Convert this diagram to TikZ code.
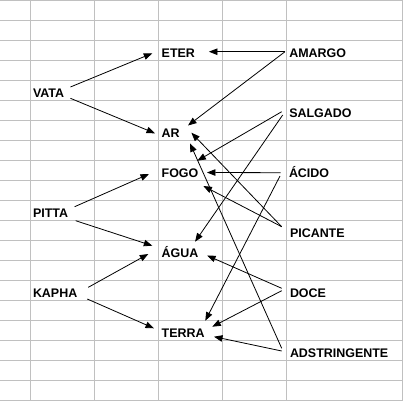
\documentclass[tikz,border=0pt]{standalone}
\usepackage{fontspec}
\setmainfont{Liberation Sans}
\usetikzlibrary{arrows.meta}
\definecolor{grade}{RGB}{192,192,192}
\tikzstyle{termo}=[anchor=base west,inner sep=0pt,outer sep=0pt,text height=9bp,text depth=0pt,font=\fontsize{12.5}{14}\selectfont\bfseries]
\tikzstyle{gradeline}=[draw=grade,line width=1bp]
\tikzstyle{ligacao}=[-{Triangle[length=8.5bp,width=6.5bp]},line width=0.8bp]
\begin{document}
\begin{tikzpicture}[x=1bp,y=-1bp]
  \useasboundingbox (0,0) rectangle (404,401);
  \fill[white] (0,0) rectangle (404,401);
  % grade da planilha
  \foreach \y in {0,20,...,400} {
    \draw[gradeline] (0,\y+0.5) -- (402,\y+0.5);
  }
  \foreach \x in {30.5,94.5,158.5,222.5,286.5,402} {
    \draw[gradeline] (\x,0) -- (\x,401);
  }
  % doshas
  \node[termo] (vata) at (33,97) {VATA};
  \node[termo] (pitta) at (33,217) {PITTA};
  \node[termo] (kapha) at (33,297) {KAPHA};
  % elementos
  \node[termo] (eter) at (161.7,57) {ETER};
  \node[termo] (ar) at (161.7,137) {AR};
  \node[termo] (fogo) at (161.7,177) {FOGO};
  \node[termo] (agua) at (161.7,257) {ÁGUA};
  \node[termo] (terra) at (161.7,337) {TERRA};
  % sabores
  \node[termo] (amargo) at (289.3,57) {AMARGO};
  \node[termo] (salgado) at (289.3,117) {SALGADO};
  \node[termo] (acido) at (289,177) {ÁCIDO};
  \node[termo] (picante) at (290,237) {PICANTE};
  \node[termo] (doce) at (290,297) {DOCE};
  \node[termo] (adstringente) at (290,357) {ADSTRINGENTE};
  % doshas -> elementos
  \draw[ligacao] ([shift={(6.3,-5.5)}]vata.east) -- ([shift={(-9.4,0.8)}]eter.west);
  \draw[ligacao] ([shift={(6.3,5.8)}]vata.east) -- ([shift={(-6.7,0.8)}]ar.west);
  \draw[ligacao] ([shift={(6.6,-5.8)}]pitta.east) -- ([shift={(-12.7,1.5)}]fogo.west);
  \draw[ligacao] ([shift={(7.6,8.2)}]pitta.east) -- ([shift={(-9.4,-6.8)}]agua.west);
  \draw[ligacao] ([shift={(11,-5.2)}]kapha.east) -- ([shift={(-13.4,1.5)}]agua.west);
  \draw[ligacao] ([shift={(10,6.5)}]kapha.east) -- ([shift={(-7.7,-4.2)}]terra.west);
  % sabores -> elementos
  \draw[ligacao] ([shift={(-4.3,-0.8)}]amargo.west) -- ([shift={(14,-0.8)}]eter.east);
  \draw[ligacao] ([shift={(-4.3,-0.8)}]amargo.west) -- ([shift={(8.3,-7)}]ar.east);
  \draw[ligacao] ([shift={(-7.6,-0.8)}]salgado.west) -- ([shift={(-1,-11.8)}]fogo.east);
  \draw[ligacao] ([shift={(-6.6,2.5)}]salgado.west) -- ([shift={(-3.3,-10.8)}]agua.east);
  \draw[ligacao] ([shift={(-8.3,0.2)}]acido.west) -- ([shift={(8.6,0)}]fogo.east);
  \draw[ligacao] ([shift={(-9,3.5)}]acido.west) -- ([shift={(0.7,-11.8)}]terra.east);
  \draw[ligacao] ([shift={(-8.3,-5.8)}]picante.west) -- ([shift={(11.7,0.2)}]ar.east);
  \draw[ligacao] ([shift={(-8.3,-5.8)}]picante.west) -- ([shift={(5,13.5)}]fogo.east);
  \draw[ligacao] ([shift={(-8.3,-4.2)}]doce.west) -- ([shift={(8.7,3)}]agua.east);
  \draw[ligacao] ([shift={(-8.3,-1.8)}]doce.west) -- ([shift={(7.7,-5.8)}]terra.east);
  \draw[ligacao] ([shift={(-8.3,-1.5)}]adstringente.west) -- ([shift={(9.4,4.2)}]terra.east);
  \draw[ligacao] ([shift={(-8.3,-4.2)}]adstringente.west) -- ([shift={(10.3,10.8)}]ar.east);
\end{tikzpicture}
\end{document}
